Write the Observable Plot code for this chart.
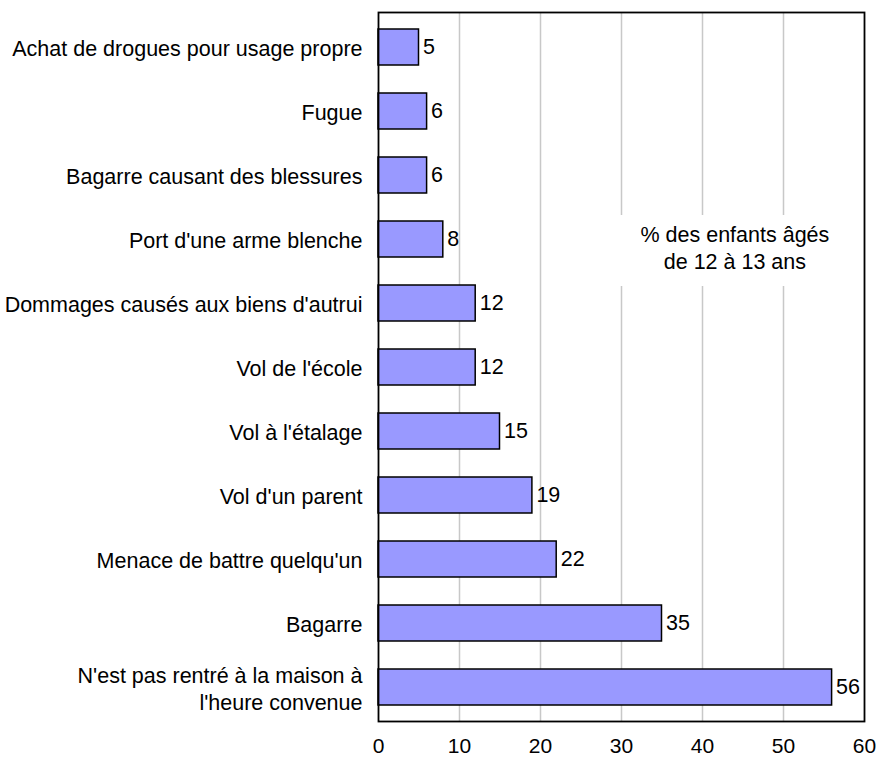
<!DOCTYPE html>
<html>
<head>
<meta charset="utf-8">
<script src="https://cdn.jsdelivr.net/npm/d3@7"></script>
<script src="https://cdn.jsdelivr.net/npm/@observablehq/plot@0.6"></script>
<style>
  body { margin: 0; background: #fff; }
  #chart svg { display: block; }
</style>
</head>
<body>
<div id="chart"></div>
<script>
const categories = [
  "Achat de drogues pour usage propre",
  "Fugue",
  "Bagarre causant des blessures",
  "Port d'une arme blenche",
  "Dommages causés aux biens d'autrui",
  "Vol de l'école",
  "Vol à l'étalage",
  "Vol d'un parent",
  "Menace de battre quelqu'un",
  "Bagarre",
  "N'est pas rentré à la maison à l'heure convenue"
];
const categoryLabels = [
  "Achat de drogues pour usage propre",
  "Fugue",
  "Bagarre causant des blessures",
  "Port d'une arme blenche",
  "Dommages causés aux biens d'autrui",
  "Vol de l'école",
  "Vol à l'étalage",
  "Vol d'un parent",
  "Menace de battre quelqu'un",
  "Bagarre",
  "N'est pas rentré à la maison à\nl'heure convenue"
];
const values = [5, 6, 6, 8, 12, 12, 15, 19, 22, 35, 56];
const xTicks = [0, 10, 20, 30, 40, 50, 60];
const gridTicks = [10, 20, 30, 40, 50];
const annotationText = "% des enfants âgés\nde 12 à 13 ans";
const annotationCategory = "Port d'une arme blenche";

const data = categories.map((c, i) => ({category: c, value: values[i]}));
const labelOf = new Map(categories.map((c, i) => [c, categoryLabels[i]]));

const FS = 21.5;

const chart = Plot.plot({
  width: 877,
  height: 759,
  marginLeft: 378,
  marginRight: 13,
  marginTop: 12,
  marginBottom: 38,
  style: {fontFamily: "'Liberation Sans', Arial, Helvetica, sans-serif", fontSize: FS + "px", color: "#000"},
  x: {domain: [0, 60], ticks: xTicks},
  y: {domain: categories, paddingInner: 0.44, paddingOuter: 0.22},
  marks: [
    Plot.ruleX(gridTicks, {stroke: "#c8c8c8", strokeWidth: 1.5}),
    Plot.rect([{category: annotationCategory}], {
      x1: 29, x2: 59.6, y: "category", fill: "white",
      insetTop: -6, insetBottom: -29
    }),
    Plot.text([{category: annotationCategory, label: annotationText}], {
      x: 44, y: "category", text: "label", fontSize: FS, lineHeight: 1.27, dy: 7, fill: "#000"
    }),
    Plot.barX(data, {x: "value", y: "category", fill: "#9999ff", stroke: "#000", strokeWidth: 1.5}),
    Plot.text(data, {x: "value", y: "category", text: d => String(d.value), textAnchor: "start", dx: 4, fontSize: FS, fill: "#000"}),
    Plot.axisY({tickSize: 0, tickPadding: 16, tickFormat: d => labelOf.get(d), fontSize: FS, lineHeight: 1.27, label: null}),
    Plot.axisX({tickSize: 0, tickPadding: 17, ticks: xTicks, tickFormat: d => String(d), fontSize: 21, label: null}),
    Plot.frame({stroke: "#000", strokeWidth: 1.8})
  ]
});
document.getElementById("chart").appendChild(chart);
</script>
</body>
</html>
